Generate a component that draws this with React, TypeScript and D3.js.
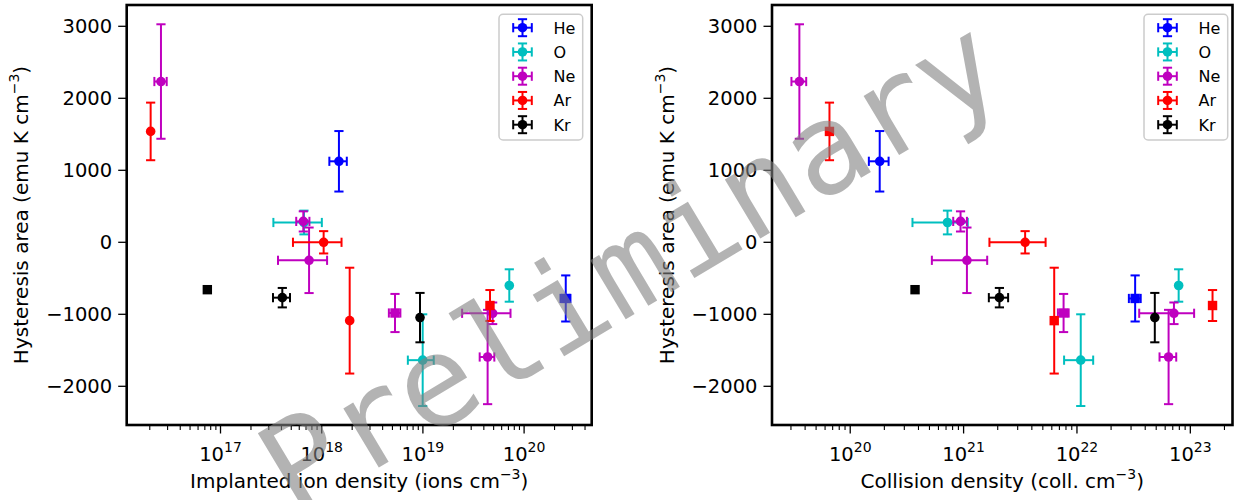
import React from 'react';
import * as d3 from 'd3';

const W = 1234;
const H = 500;

// ---------------- data ----------------
const species = ['He', 'O', 'Ne', 'Ar', 'Kr'];
const colors = ['#0000ff', '#00bfbf', '#bf00bf', '#ff0000', '#000000'];

// He
const heArea = [1125, -780];
const heAreaErr = [420, 320];
const heImplanted = [1.48e18, 2.58e20];
const heImplantedErr = [0.29e18, 0.29e20];
const heCollision = [1.82e20, 3.26e22];
const heCollisionErr = [0.36e20, 0.39e22];
const heMarkImpl = ['o', 's'];
const heMarkColl = ['o', 's'];

// O
const oArea = [275, -1637, -600];
const oAreaErr = [165, 637, 225];
const oImplanted = [6.68e17, 9.95e18, 7.14e19];
const oImplantedErr = [3.35e17, 2.85e18, 0];
const oCollision = [7.21e20, 1.08e22, 7.89e22];
const oCollisionErr = [3.67e20, 3.1e21, 0];
const oMarkImpl = ['o', 'o', 'o'];
const oMarkColl = ['o', 'o', 'o'];

// Ne
const neArea = [2233, 290, -250, -982, -1593, -986];
const neAreaErr = [795, 140, 455, 265, 655, 150];
const neImplanted = [2.58e16, 6.58e17, 7.5e17, 5.3e18, 4.36e19, 4.89e19];
const neImplantedErr = [0.36e16, 0.98e17, 3.8e17, 0.69e18, 0.72e19, 2.45e19];
const neCollision = [3.56e19, 9.4e20, 1.07e21, 7.62e21, 6.43e22, 7.17e22];
const neCollisionErr = [0.53e19, 1.3e20, 5.45e20, 0.83e21, 1.08e22, 3.63e22];
const neMarkImpl = ['o', 'o', 'o', 's', 'o', 'o'];
const neMarkColl = ['o', 'o', 'o', 's', 'o', 'o'];

// Ar
const arArea = [1540, 0, -1088, -878];
const arAreaErr = [400, 155, 735, 215];
const arImplanted = [2.04e16, 1.045e18, 1.89e18, 4.6e19];
const arImplantedErr = [0, 5.25e17, 0, 0];
const arCollision = [6.56e19, 3.49e21, 6.3e21, 1.57e23];
const arCollisionErr = [0, 1.8e21, 0, 0];
const arMarkImpl = ['o', 'o', 'o', 's'];
const arMarkColl = ['s', 'o', 's', 's'];

// Kr
const krArea = [-658, -769, -1046];
const krAreaErr = [0, 135, 343];
const krImplanted = [7.41e16, 4.08e17, 9.36e18];
const krImplantedErr = [0, 0.78e17, 0];
const krCollision = [3.73e20, 2.07e21, 4.86e22];
const krCollisionErr = [0, 0.4e21, 0];
const krMarkImpl = ['s', 'o', 'o'];
const krMarkColl = ['s', 'o', 'o'];

const yTicks = [-2000, -1000, 0, 1000, 2000, 3000];
const yLabel = 'Hysteresis area (emu K cm';
const leftXLabel = 'Implanted ion density (ions cm';
const rightXLabel = 'Collision density (coll. cm';
const watermark = 'Preliminary';

// ---------------- series assembly ----------------
type Pt = { x: number; xe: number; y: number; ye: number; m: string };
type Series = { name: string; color: string; pts: Pt[] };

function build(xs: number[], xes: number[], ys: number[], yes: number[], ms: string[]): Pt[] {
  return xs.map((x, i) => ({ x, xe: xes[i], y: ys[i], ye: yes[i], m: ms[i] }));
}

const implantedSeries: Series[] = [
  { name: species[0], color: colors[0], pts: build(heImplanted, heImplantedErr, heArea, heAreaErr, heMarkImpl) },
  { name: species[1], color: colors[1], pts: build(oImplanted, oImplantedErr, oArea, oAreaErr, oMarkImpl) },
  { name: species[2], color: colors[2], pts: build(neImplanted, neImplantedErr, neArea, neAreaErr, neMarkImpl) },
  { name: species[3], color: colors[3], pts: build(arImplanted, arImplantedErr, arArea, arAreaErr, arMarkImpl) },
  { name: species[4], color: colors[4], pts: build(krImplanted, krImplantedErr, krArea, krAreaErr, krMarkImpl) },
];
const collisionSeries: Series[] = [
  { name: species[0], color: colors[0], pts: build(heCollision, heCollisionErr, heArea, heAreaErr, heMarkColl) },
  { name: species[1], color: colors[1], pts: build(oCollision, oCollisionErr, oArea, oAreaErr, oMarkColl) },
  { name: species[2], color: colors[2], pts: build(neCollision, neCollisionErr, neArea, neAreaErr, neMarkColl) },
  { name: species[3], color: colors[3], pts: build(arCollision, arCollisionErr, arArea, arAreaErr, arMarkColl) },
  { name: species[4], color: colors[4], pts: build(krCollision, krCollisionErr, krArea, krAreaErr, krMarkColl) },
];

// ---------------- styling ----------------
const FONT = 'DejaVu Sans, sans-serif';
const TICK_FS = 19.5;
const SUP_FS = 14;
const LABEL_FS = 20;
const LEG_FS = 16;
const Y0 = 5;
const Y1 = 425;
const CAP = 4.6;
const LW = 2;

const yScale = d3.scaleLinear().domain([-2537.5, 3295.8]).range([Y1, Y0]);

function logTicks(lo: number, hi: number) {
  const majors: number[] = [];
  const minors: number[] = [];
  for (let k = Math.floor(Math.log10(lo)); k <= Math.ceil(Math.log10(hi)); k++) {
    const b = Math.pow(10, k);
    if (b >= lo && b <= hi) majors.push(k);
    for (let j = 2; j <= 9; j++) {
      const v = j * b;
      if (v >= lo && v <= hi) minors.push(v);
    }
  }
  return { majors, minors };
}

function Marker({ cx, cy, m, color }: { cx: number; cy: number; m: string; color: string }) {
  if (m === 's') {
    const s = 9.4;
    return <rect x={cx - s / 2} y={cy - s / 2} width={s} height={s} fill={color} />;
  }
  return <circle cx={cx} cy={cy} r={4.8} fill={color} />;
}

function ErrPoint({ p, xs, color }: { p: Pt; xs: any; color: string }) {
  const cx = xs(p.x);
  const cy = yScale(p.y);
  const parts: any[] = [];
  if (p.xe > 0) {
    const xa = xs(p.x - p.xe);
    const xb = xs(p.x + p.xe);
    parts.push(<line key="xb" x1={xa} x2={xb} y1={cy} y2={cy} stroke={color} strokeWidth={LW} />);
    parts.push(<line key="xc1" x1={xa} x2={xa} y1={cy - CAP} y2={cy + CAP} stroke={color} strokeWidth={LW} />);
    parts.push(<line key="xc2" x1={xb} x2={xb} y1={cy - CAP} y2={cy + CAP} stroke={color} strokeWidth={LW} />);
  }
  if (p.ye > 0) {
    const ya = yScale(p.y - p.ye);
    const yb = yScale(p.y + p.ye);
    parts.push(<line key="yb" x1={cx} x2={cx} y1={ya} y2={yb} stroke={color} strokeWidth={LW} />);
    parts.push(<line key="yc1" x1={cx - CAP} x2={cx + CAP} y1={ya} y2={ya} stroke={color} strokeWidth={LW} />);
    parts.push(<line key="yc2" x1={cx - CAP} x2={cx + CAP} y1={yb} y2={yb} stroke={color} strokeWidth={LW} />);
  }
  return (
    <g>
      {parts}
      <Marker cx={cx} cy={cy} m={p.m} color={color} />
    </g>
  );
}

function Legend({ x0, x1, series }: { x0: number; x1: number; series: Series[] }) {
  const top = 14.3;
  const bottom = 140;
  const rowY = (i: number) => 27.7 + i * 24.25;
  const hx = x0 + 23.5;
  const tx = x0 + 54.5;
  return (
    <g>
      <rect x={x0} y={top} width={x1 - x0} height={bottom - top} rx={4} ry={4} fill="white" fillOpacity={0.8} stroke="#cccccc" strokeWidth={1.5} />
      {series.map((s, i) => {
        const y = rowY(i);
        return (
          <g key={s.name}>
            <line x1={hx - 9.3} x2={hx + 9.3} y1={y} y2={y} stroke={s.color} strokeWidth={LW} />
            <line x1={hx - 9.3} x2={hx - 9.3} y1={y - CAP} y2={y + CAP} stroke={s.color} strokeWidth={LW} />
            <line x1={hx + 9.3} x2={hx + 9.3} y1={y - CAP} y2={y + CAP} stroke={s.color} strokeWidth={LW} />
            <line x1={hx} x2={hx} y1={y - 8.5} y2={y + 8.5} stroke={s.color} strokeWidth={LW} />
            <line x1={hx - CAP} x2={hx + CAP} y1={y - 8.5} y2={y - 8.5} stroke={s.color} strokeWidth={LW} />
            <line x1={hx - CAP} x2={hx + CAP} y1={y + 8.5} y2={y + 8.5} stroke={s.color} strokeWidth={LW} />
            <circle cx={hx} cy={y} r={4.8} fill={s.color} />
            <text x={tx} y={y + 5.8} fontSize={LEG_FS} fontFamily={FONT} fill="#000">{s.name}</text>
          </g>
        );
      })}
    </g>
  );
}

function Panel({ x0, x1, domain, series, xLabel, legendX0, legendX1 }: any) {
  const xs = d3.scaleLog().domain(domain).range([x0, x1]);
  const { majors, minors } = logTicks(domain[0], domain[1]);
  const cxMid = (x0 + x1) / 2;
  const cyMid = (Y0 + Y1) / 2;
  return (
    <g>
      {yTicks.map((t) => (
        <g key={'y' + t}>
          <line x1={x0 - 8.5} x2={x0} y1={yScale(t)} y2={yScale(t)} stroke="#000" strokeWidth={1.3} />
          <text x={x0 - 14.5} y={yScale(t) + 7} textAnchor="end" fontSize={TICK_FS} fontFamily={FONT}>
            {t < 0 ? '\u2212' + Math.abs(t) : String(t)}
          </text>
        </g>
      ))}
      {minors.map((v) => (
        <line key={'mn' + v} x1={xs(v)} x2={xs(v)} y1={Y1} y2={Y1 + 5} stroke="#000" strokeWidth={1.1} />
      ))}
      {majors.map((k) => {
        const px = xs(Math.pow(10, k));
        return (
          <g key={'mj' + k}>
            <line x1={px} x2={px} y1={Y1} y2={Y1 + 8.5} stroke="#000" strokeWidth={1.3} />
            <text x={px} y={Y1 + 36} textAnchor="middle" fontSize={TICK_FS} fontFamily={FONT}>
              10<tspan dy={-9} fontSize={SUP_FS}>{k}</tspan>
            </text>
          </g>
        );
      })}
      <text x={cxMid} y={Y1 + 63} textAnchor="middle" fontSize={LABEL_FS} fontFamily={FONT}>
        {xLabel}
        <tspan dy={-9} fontSize={SUP_FS}>{'\u22123'}</tspan>
        <tspan dy={9}>)</tspan>
      </text>
      <text transform={`translate(${x0 - 98.5},${cyMid}) rotate(-90)`} textAnchor="middle" fontSize={LABEL_FS} fontFamily={FONT}>
        {yLabel}
        <tspan dy={-9} fontSize={SUP_FS}>{'\u22123'}</tspan>
        <tspan dy={9}>)</tspan>
      </text>
      <g>
        {series.map((s: Series) => (
          <g key={s.name}>
            {s.pts.map((p, i) => (
              <ErrPoint key={i} p={p} xs={xs} color={s.color} />
            ))}
          </g>
        ))}
      </g>
      <Legend x0={legendX0} x1={legendX1} series={series} />
      <rect x={x0} y={Y0} width={x1 - x0} height={Y1 - Y0} fill="none" stroke="#000" strokeWidth={2.6} />
    </g>
  );
}

export default function App() {
  const leftDomain = [Math.pow(10, 16.073), Math.pow(10, 20.668)];
  const rightDomain = [Math.pow(10, 19.31), Math.pow(10, 23.372)];
  return (
    <svg width={W} height={H} style={{ position: 'absolute', left: 0, top: 0, background: 'white' }} xmlns="http://www.w3.org/2000/svg">
      <rect x={0} y={0} width={W} height={H} fill="white" />
      <Panel x0={126.7} x1={591.7} domain={leftDomain} series={implantedSeries} xLabel={leftXLabel} legendX0={499} legendX1={582.7} />
      <Panel x0={772} x1={1232.5} domain={rightDomain} series={collisionSeries} xLabel={rightXLabel} legendX0={1144} legendX1={1227.7} />
      <text
        transform={`translate(630,266) rotate(-31)`}
        textAnchor="middle"
        dominantBaseline="central"
        fontSize={126}
        fontFamily="DejaVu Sans Mono, monospace"
        fill="#808080"
        fillOpacity={0.6}
      >
        {watermark}
      </text>
    </svg>
  );
}
